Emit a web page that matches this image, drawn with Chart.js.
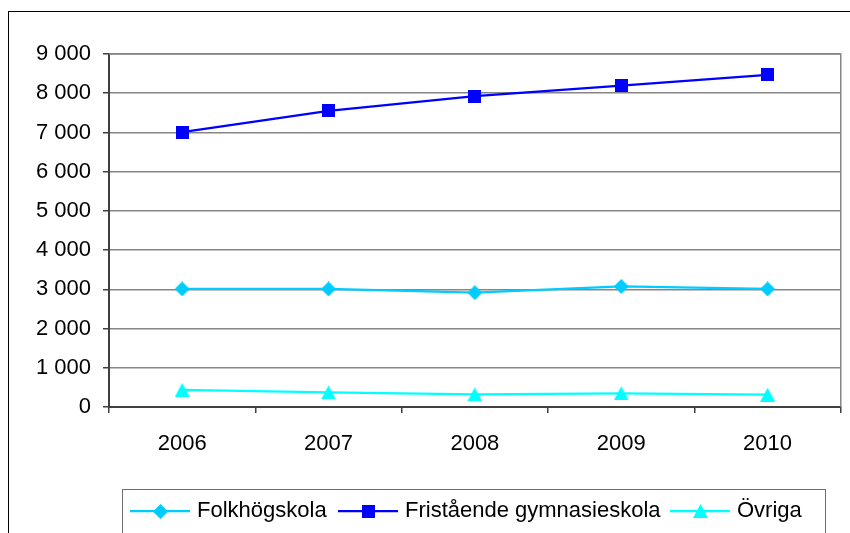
<!DOCTYPE html>
<html>
<head>
<meta charset="utf-8">
<script src="https://cdn.jsdelivr.net/npm/chart.js@4/dist/chart.umd.min.js"></script>
<style>
  html, body { margin: 0; padding: 0; background: #fff; }
  #wrap { width: 850px; height: 533px; }
</style>
</head>
<body>
<div id="wrap"><canvas id="my-chart" width="850" height="533"></canvas></div>
<script>
var years = ['2006', '2007', '2008', '2009', '2010'];
var folkhogskola = [3010, 3010, 2915, 3075, 3010];
var fristaende = [7010, 7550, 7925, 8195, 8470];
var ovriga = [435, 370, 325, 350, 315];
var seriesNames = ['Folkhögskola', 'Fristående gymnasieskola', 'Övriga'];
var yTicks = [0, 1000, 2000, 3000, 4000, 5000, 6000, 7000, 8000, 9000];

var FONT = "'Liberation Sans', Arial, sans-serif";

// Excel-like markers, centred on their bounding box
function marker(shape, color) {
  var c = document.createElement('canvas');
  var w = shape === 'square' ? 13 : 15;
  var h = shape === 'square' ? 13 : (shape === 'triangle' ? 14 : 15);
  c.width = w; c.height = h;
  var ctx = c.getContext('2d');
  ctx.fillStyle = color;
  ctx.beginPath();
  if (shape === 'diamond') {
    ctx.moveTo(w / 2, 0); ctx.lineTo(w, h / 2); ctx.lineTo(w / 2, h); ctx.lineTo(0, h / 2);
  } else if (shape === 'square') {
    ctx.rect(0, 0, w, h);
  } else {
    ctx.moveTo(w / 2, 0); ctx.lineTo(w, h); ctx.lineTo(0, h);
  }
  ctx.closePath();
  ctx.fill();
  return c;
}

var colors = ['#00CCFF', '#0000FF', '#00FFFF'];
var markers = [marker('diamond', colors[0]), marker('square', colors[1]), marker('triangle', colors[2])];
var legendX = [130, 338, 670];

function fmt(v) {
  return String(v).replace(/\B(?=(\d{3})+(?!\d))/g, ' ');
}

var frame = {
  id: 'frame',
  beforeDraw: function (chart) {
    var ctx = chart.ctx;
    ctx.save();
    ctx.strokeStyle = '#000';
    ctx.lineWidth = 1;
    ctx.strokeRect(8.5, 11.5, 900, 600);
    ctx.restore();
  },
  beforeDatasetsDraw: function (chart) {
    var a = chart.chartArea, ctx = chart.ctx;
    ctx.save();
    ctx.strokeStyle = '#868686';
    ctx.lineWidth = 1.5;
    ctx.beginPath();
    ctx.moveTo(a.left, a.top);
    ctx.lineTo(a.right, a.top);
    ctx.lineTo(a.right, a.bottom);
    ctx.stroke();
    ctx.restore();
  },
  afterDraw: function (chart) {
    // legend box like the Excel one
    var ctx = chart.ctx;
    ctx.save();
    ctx.strokeStyle = '#6e6e6e';
    ctx.lineWidth = 1;
    ctx.strokeRect(122.5, 489.5, 703, 80);
    ctx.font = '22px ' + FONT;
    ctx.textBaseline = 'middle';
    ctx.fillStyle = '#000';
    var y = 511;
    for (var i = 0; i < seriesNames.length; i++) {
      var x = legendX[i];
      ctx.strokeStyle = colors[i];
      ctx.lineWidth = 2.25;
      ctx.beginPath();
      ctx.moveTo(x, y); ctx.lineTo(x + 60, y);
      ctx.stroke();
      var m = markers[i];
      ctx.drawImage(m, Math.round(x + 30 - m.width / 2), Math.round(y - m.height / 2));
      ctx.fillText(seriesNames[i], x + 67, y);
    }
    ctx.restore();
  }
};

function ds(label, data, i) {
  return {
    label: label,
    data: data,
    borderColor: colors[i],
    backgroundColor: colors[i],
    borderWidth: 2.25,
    tension: 0,
    pointStyle: markers[i],
    pointRadius: 7,
    pointHoverRadius: 7
  };
}

var chart1 = document.getElementById('my-chart').getContext('2d');
var myChart = new Chart(chart1, {
  type: 'line',
  data: {
    labels: years,
    datasets: [
      ds(seriesNames[0], folkhogskola, 0),
      ds(seriesNames[1], fristaende, 1),
      ds(seriesNames[2], ovriga, 2)
    ]
  },
  options: {
    responsive: false,
    animation: false,
    layout: { padding: { left: 0, top: 54, right: 8, bottom: 0 } },
    plugins: {
      legend: { display: false },
      tooltip: { enabled: false }
    },
    scales: {
      x: {
        offset: true,
        grid: { offset: true, drawOnChartArea: false, drawTicks: true, tickLength: 6, tickColor: '#404040', lineWidth: 1.5 },
        border: { color: '#404040', width: 2 },
        ticks: { color: '#000', font: { family: FONT, size: 22 }, padding: 18, maxRotation: 0 },
        afterFit: function (s) { s.height = 126; }
      },
      y: {
        min: 0,
        max: 9000,
        afterBuildTicks: function (s) { s.ticks = yTicks.map(function (v) { return { value: v }; }); },
        grid: { color: '#868686', lineWidth: 1.5, drawTicks: true, tickLength: 6, tickColor: '#404040' },
        border: { color: '#404040', width: 2 },
        ticks: { color: '#000', font: { family: FONT, size: 22 }, padding: 12, callback: function (v) { return fmt(v); } },
        afterFit: function (s) { s.width = 109; }
      }
    }
  },
  plugins: [frame]
});
</script>
</body>
</html>
